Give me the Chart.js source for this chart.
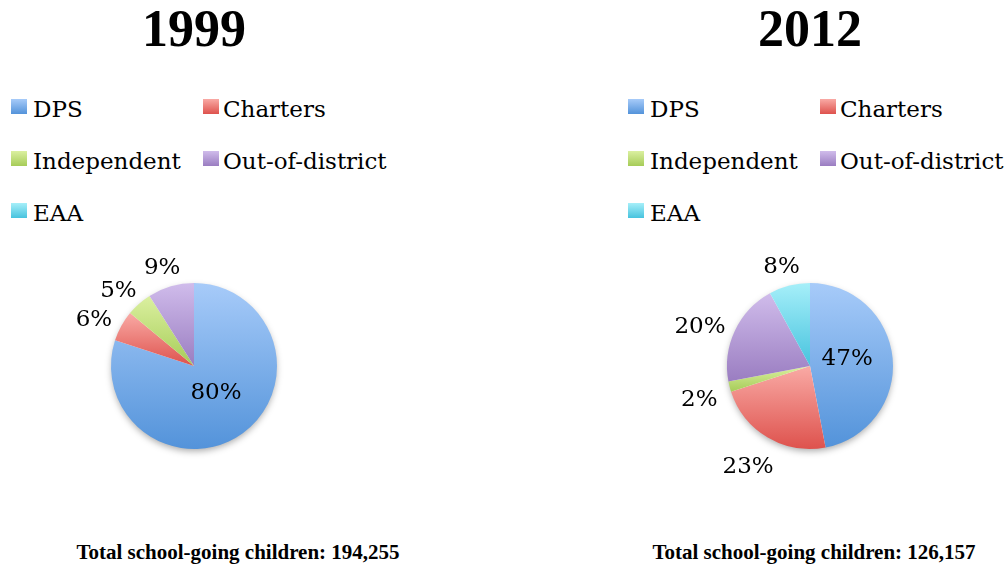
<!DOCTYPE html>
<html>
<head>
<meta charset="utf-8">
<script src="https://cdn.jsdelivr.net/npm/chart.js@4/dist/chart.umd.min.js"></script>
<style>
  html, body { margin: 0; padding: 0; background: #ffffff; }
  body { width: 1006px; height: 567px; position: relative; overflow: hidden; color: #000; }
  .title { position: absolute; top: 3px; width: 200px; text-align: center; font-family: "Liberation Serif", serif; font-weight: bold; font-size: 52px; line-height: 52px; }
  .leg { position: absolute; font-family: "DejaVu Serif", serif; font-size: 23px; line-height: 23px; white-space: nowrap; }
  .box { position: absolute; width: 16px; height: 15px; }
  .footer { position: absolute; top: 542px; width: 340px; text-align: center; font-family: "Liberation Serif", serif; font-weight: bold; font-size: 21px; line-height: 21px; white-space: nowrap; }
  canvas { position: absolute; }
</style>
</head>
<body>
<script>
// ---- data ----
const categories = ['DPS', 'Charters', 'Independent', 'Out-of-district', 'EAA'];
const years = ['1999', '2012'];
const values1999 = [80, 6, 5, 9, 0];
const values2012 = [47, 23, 2, 20, 8];
const totalChildren = ['194,255', '126,157'];

// ---- styles ----
const lightColors = ['#a7cbf9', '#f9aaa5', '#dbf0a0', '#d0bceb', '#a6eff9'];
const darkColors  = ['#5393da', '#de524d', '#a6cc58', '#9a7dc1', '#47c3de'];

const panels = [
  { values: values1999, offsetX: 0,   pieCx: 194, footerLeft: 68 },
  { values: values2012, offsetX: 617, pieCx: 810, footerLeft: 644 }
];

function sliceYRange(cy, r, a0, a1) {
  const ys = [cy, cy + r * Math.sin(a0), cy + r * Math.sin(a1)];
  if (a0 <= Math.PI / 2 && a1 >= Math.PI / 2) ys.push(cy + r);
  if (a0 <= -Math.PI / 2 + 1e-9 || a1 >= 1.5 * Math.PI - 1e-9) ys.push(cy - r);
  return [Math.min(...ys), Math.max(...ys)];
}

const shadowPlugin = {
  id: 'pieShadow',
  beforeDatasetsDraw(chart) {
    const arc = chart.getDatasetMeta(0).data[0];
    if (!arc) return;
    const ctx = chart.ctx;
    ctx.save();
    ctx.shadowColor = 'rgba(0,0,0,0.35)';
    ctx.shadowBlur = 7;
    ctx.shadowOffsetY = 3;
    ctx.beginPath();
    ctx.arc(arc.x, arc.y, arc.outerRadius - 1, 0, Math.PI * 2);
    ctx.fillStyle = '#ffffff';
    ctx.fill();
    ctx.restore();
  }
};

const labelPlugin = {
  id: 'pctLabels',
  afterDatasetsDraw(chart) {
    const ctx = chart.ctx;
    const ds = chart.data.datasets[0].data;
    const total = ds.reduce((a, b) => a + b, 0);
    const meta = chart.getDatasetMeta(0);
    ctx.save();
    ctx.font = '23px "DejaVu Serif"';
    ctx.fillStyle = '#000';
    ctx.textAlign = 'center';
    ctx.textBaseline = 'middle';
    meta.data.forEach((arc, i) => {
      const v = ds[i];
      if (!v) return;
      const txt = Math.round(v / total * 100) + '%';
      const mid = (arc.startAngle + arc.endAngle) / 2;
      const ux = Math.cos(mid), uy = Math.sin(mid);
      let x, y;
      if (v / total >= 0.3) {
        x = arc.x + ux * arc.outerRadius * 0.45;
        y = arc.y + uy * arc.outerRadius * 0.45 - 3;
      } else {
        const w = ctx.measureText(txt).width, h = 26;
        const d = arc.outerRadius + 13;
        x = arc.x + ux * d + ux * w / 2;
        y = arc.y + uy * d + uy * h / 2 + 7;
      }
      ctx.fillText(txt, x, y);
    });
    ctx.restore();
  }
};

panels.forEach((p, pi) => {
  // title
  const t = document.createElement('div');
  t.className = 'title';
  t.textContent = years[pi];
  t.style.left = (p.pieCx - 100) + 'px';
  document.body.appendChild(t);

  // legend (2-column grid)
  categories.forEach((cat, i) => {
    const col = i % 2, row = Math.floor(i / 2);
    const baseline = 117 + row * 52;
    const bx = p.offsetX + (col === 0 ? 11 : 203);
    const tx = p.offsetX + (col === 0 ? 33 : 223);
    const b = document.createElement('div');
    b.className = 'box';
    b.style.left = bx + 'px';
    b.style.top = (baseline - 18) + 'px';
    b.style.background = 'linear-gradient(' + lightColors[i] + ',' + darkColors[i] + ')';
    document.body.appendChild(b);
    const s = document.createElement('div');
    s.className = 'leg';
    s.textContent = cat;
    s.style.left = tx + 'px';
    s.style.top = (baseline - 19.5) + 'px';
    document.body.appendChild(s);
  });

  // footer
  const f = document.createElement('div');
  f.className = 'footer';
  f.textContent = 'Total school-going children: ' + totalChildren[pi];
  f.style.left = p.footerLeft + 'px';
  document.body.appendChild(f);

  // pie
  const cv = document.createElement('canvas');
  cv.width = 388; cv.height = 280;
  cv.style.left = (p.pieCx - 194) + 'px';
  cv.style.top = '226px';
  cv.style.width = '388px'; cv.style.height = '280px';
  document.body.appendChild(cv);

  const vals = p.values;
  new Chart(cv, {
    type: 'pie',
    data: {
      labels: categories,
      datasets: [{
        data: vals,
        borderWidth: 0,
        radius: 83,
        backgroundColor: (c) => {
          const chart = c.chart;
          const area = chart.chartArea;
          const i = c.dataIndex;
          if (!area || i === undefined) return darkColors[i || 0];
          const total = vals.reduce((a, b) => a + b, 0);
          let cum = 0;
          for (let k = 0; k < i; k++) cum += vals[k];
          const a0 = -Math.PI / 2 + 2 * Math.PI * cum / total;
          const a1 = -Math.PI / 2 + 2 * Math.PI * (cum + vals[i]) / total;
          const cy = (area.top + area.bottom) / 2;
          const [y0, y1] = sliceYRange(cy, 83, a0, a1);
          const g = chart.ctx.createLinearGradient(0, y0, 0, Math.max(y1, y0 + 1));
          g.addColorStop(0, lightColors[i]);
          g.addColorStop(1, darkColors[i]);
          return g;
        }
      }]
    },
    options: {
      responsive: false,
      devicePixelRatio: 1,
      animation: false,
      layout: { padding: 0 },
      plugins: { legend: { display: false }, tooltip: { enabled: false } }
    },
    plugins: [shadowPlugin, labelPlugin]
  });
});
</script>
</body>
</html>
